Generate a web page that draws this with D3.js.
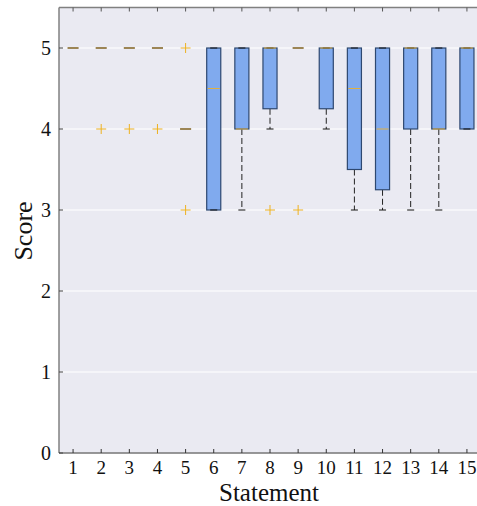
<!DOCTYPE html>
<html><head><meta charset="utf-8">
<script src="https://cdn.jsdelivr.net/npm/d3@7"></script>
<style>body{margin:0;background:#fff}svg{display:block}</style>
</head><body><svg id="c" width="477" height="506"></svg>
<script>
const statements = [1,2,3,4,5,6,7,8,9,10,11,12,13,14,15];
const q1      = [5,5,5,5,4,3,4,4.25,5,4.25,3.5,3.25,4,4,4];
const median  = [5,5,5,5,4,4.5,4,5,5,5,4.5,4,5,4,5];
const q3      = [5,5,5,5,4,5,5,5,5,5,5,5,5,5,5];
const whiskLo = [5,5,5,5,4,3,3,4,5,4,3,3,3,3,4];
const whiskHi = [5,5,5,5,4,5,5,5,5,5,5,5,5,5,5];
const outliers = [[],[4],[4],[4],[5,3],[],[],[3],[3],[],[],[],[],[],[]];
const yTicks = [0,1,2,3,4,5];

const FONT = '"Liberation Serif"';
const svg = d3.select("#c");
const L=59, R=481, T=7.5, B=453;
const x = d3.scaleLinear().domain([0.5,15.5]).range([L,R]);
const y = d3.scaleLinear().domain([0,5.5]).range([B,T]);

svg.append("rect").attr("x",L).attr("y",T).attr("width",R-L).attr("height",B-T).attr("fill","#EAEAF2");
svg.append("g").selectAll("line").data(yTicks).join("line")
  .attr("x1",L).attr("x2",R).attr("y1",d=>y(d)).attr("y2",d=>y(d))
  .attr("stroke","#ffffff").attr("stroke-width",1.2);

const bw = 0.5, cw = 0.25;
const data = statements.map((s,i)=>({s,q1:q1[i],m:median[i],q3:q3[i],lo:whiskLo[i],hi:whiskHi[i],out:outliers[i]}));
const g = svg.append("g");
data.forEach(d=>{
  if(d.lo<d.q1) g.append("line").attr("x1",x(d.s)).attr("x2",x(d.s)).attr("y1",y(d.q1)).attr("y2",y(d.lo))
     .attr("stroke","#222").attr("stroke-width",1).attr("stroke-dasharray","6,3");
  if(d.hi>d.q3) g.append("line").attr("x1",x(d.s)).attr("x2",x(d.s)).attr("y1",y(d.q3)).attr("y2",y(d.hi))
     .attr("stroke","#222").attr("stroke-width",1).attr("stroke-dasharray","6,3");
});
data.forEach(d=>{
  if(d.q3>d.q1) g.append("rect").attr("x",x(d.s-bw/2)).attr("width",x(d.s+bw/2)-x(d.s-bw/2))
    .attr("y",y(d.q3)).attr("height",y(d.q1)-y(d.q3))
    .attr("fill","#80AAEE").attr("stroke","#2E4870").attr("stroke-width",1.2);
});
data.forEach(d=>{
  [d.lo,d.hi].forEach(v=>{
    if(!(d.lo===d.hi && d.q1===d.q3))
    g.append("line").attr("x1",x(d.s-cw/2)).attr("x2",x(d.s+cw/2)).attr("y1",y(v)).attr("y2",y(v))
      .attr("stroke","#111").attr("stroke-width",1);
  });
});
data.forEach(d=>{
  const collapsed = d.q1===d.q3;
  g.append("line").attr("x1",x(d.s-bw/2)+(collapsed?1.5:1)).attr("x2",x(d.s+bw/2)-(collapsed?1.5:1))
    .attr("y1",y(d.m)).attr("y2",y(d.m))
    .attr("stroke",collapsed?"#9C8555":"#E0B040").attr("stroke-width",collapsed?2:1);
});
data.forEach(d=>{
  d.out.forEach(v=>{
    const cx=x(d.s), cy=y(v);
    g.append("path").attr("d",`M${cx-5},${cy}H${cx+5}M${cx},${cy-5}V${cy+5}`)
      .attr("stroke","#EDB120").attr("stroke-width",1).attr("fill","none");
  });
});

svg.append("line").attr("x1",L).attr("x2",L).attr("y1",T).attr("y2",B).attr("stroke","#808080").attr("stroke-width",1.5);
svg.append("line").attr("x1",L).attr("x2",R).attr("y1",T).attr("y2",T).attr("stroke","#808080").attr("stroke-width",1.5);
svg.append("line").attr("x1",L).attr("x2",R).attr("y1",B).attr("y2",B).attr("stroke","#333").attr("stroke-width",1);

const xt = svg.append("g");
statements.forEach(s=>{
  xt.append("line").attr("x1",x(s)).attr("x2",x(s)).attr("y1",B).attr("y2",B-4).attr("stroke","#333");
  xt.append("line").attr("x1",x(s)).attr("x2",x(s)).attr("y1",T).attr("y2",T+4).attr("stroke","#555");
  xt.append("text").attr("x",x(s)).attr("y",B+21).attr("text-anchor","middle")
    .style("font-family",FONT).attr("font-size",19).attr("fill","#111").text(s);
});
const yt = svg.append("g");
yTicks.forEach(v=>{
  yt.append("line").attr("x1",L).attr("x2",L+4).attr("y1",y(v)).attr("y2",y(v)).attr("stroke","#444");
  yt.append("text").attr("x",L-8).attr("y",y(v)+7).attr("text-anchor","end")
    .style("font-family",FONT).attr("font-size",20).attr("fill","#111").text(v);
});
svg.append("text").attr("x",269).attr("y",501).attr("text-anchor","middle")
  .style("font-family",FONT).attr("font-size",25).attr("fill","#111").text("Statement");
svg.append("text").attr("transform",`translate(32,231) rotate(-90)`).attr("text-anchor","middle")
  .style("font-family",FONT).attr("font-size",26).attr("fill","#111").text("Score");
</script></body></html>
